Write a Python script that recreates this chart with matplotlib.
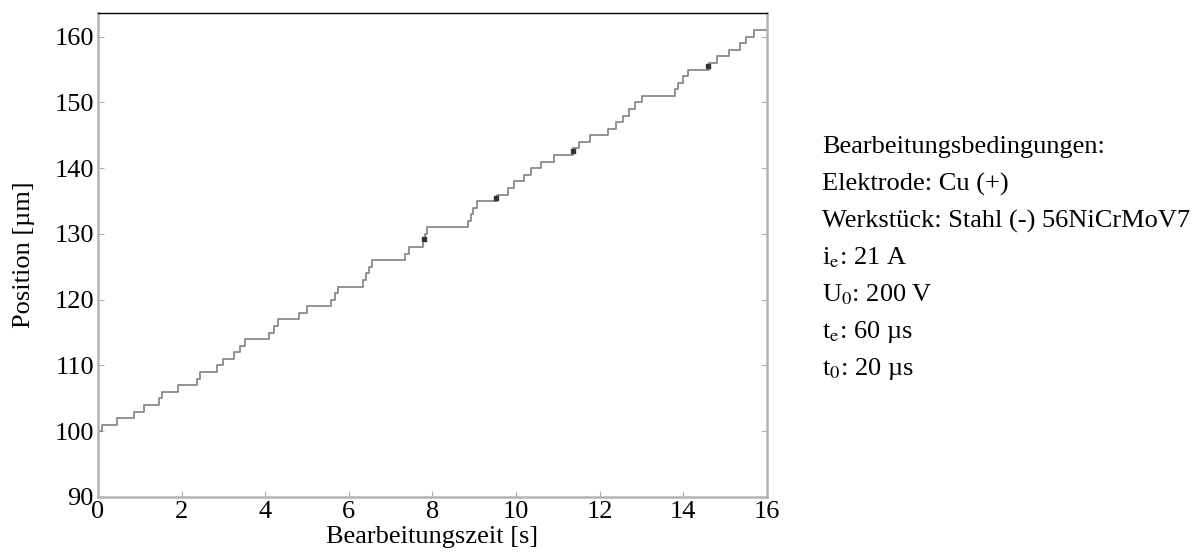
import matplotlib
matplotlib.use("Agg")
import matplotlib.pyplot as plt

plt.rcParams['font.family'] = ['Liberation Serif', 'DejaVu Serif']
plt.rcParams['mathtext.fontset'] = 'stix'

# Stufenverlauf: Startzeit der Stufe [s] und Position [µm]
zeit = [0.0, 0.1, 0.45, 0.85, 1.1, 1.45, 1.53, 1.92, 2.36, 2.44, 2.84, 3.0,
        3.25, 3.4, 3.52, 4.1, 4.2, 4.3, 4.8, 5.0, 5.58, 5.68, 5.75, 6.33,
        6.4, 6.48, 6.55, 7.35, 7.45, 7.78, 7.83, 7.88, 8.85, 8.92, 8.98,
        9.06, 9.55, 9.8, 9.95, 10.2, 10.35, 10.6, 10.9, 11.35, 11.5, 11.77,
        12.2, 12.4, 12.55, 12.7, 12.85, 13.0, 13.8, 13.88, 14.0, 14.1,
        14.62, 14.8, 15.1, 15.36, 15.5, 15.7, 16.0]
position = [100, 101, 102, 103, 104, 105, 106, 107, 108, 109, 110, 111,
            112, 113, 114, 115, 116, 117, 118, 119, 120, 121, 122, 123,
            124, 125, 126, 127, 128, 129, 130, 131, 132, 133, 134,
            135, 136, 137, 138, 139, 140, 141, 142, 143, 144, 145,
            146, 147, 148, 149, 150, 151, 152, 153, 154, 155,
            156, 157, 158, 159, 160, 161, 161]

# dunkle Stellen im Verlauf
punkt_zeit = [7.8, 9.52, 11.37, 14.6]
punkt_pos = [129.3, 135.4, 142.6, 155.6]

x_ticks = [0, 2, 4, 6, 8, 10, 12, 14, 16]
y_ticks = [90, 100, 110, 120, 130, 140, 150, 160]

bedingungen = [
    "Bearbeitungsbedingungen:",
    "Elektrode: Cu (+)",
    "Werkstück: Stahl (-) 56NiCrMoV7",
    "i$_\\mathrm{e}$: 21 A",
    "U$_\\mathrm{0}$: 200 V",
    "t$_\\mathrm{e}$: 60 µs",
    "t$_\\mathrm{0}$: 20 µs",
]

fig = plt.figure(figsize=(12.04, 5.54), dpi=100)
ax = fig.add_axes([0.0814, 0.1029, 0.5556, 0.8736])

ax.step(zeit, position, where='post', color='#8a8a8a', lw=1.3)
ax.scatter(punkt_zeit, punkt_pos, marker='s', s=10, color='#333333', zorder=3)

ax.set_xlim(0, 16)
ax.set_ylim(90, 163.6)
ax.set_xticks(x_ticks)
ax.set_yticks(y_ticks)
ax.tick_params(direction='in', length=4, width=0.8, color='#b0b0b0',
               labelsize=19, pad=3, right=True)

for s in ['left', 'bottom', 'right']:
    ax.spines[s].set_color('#b4b4b4')
    ax.spines[s].set_linewidth(1.8)
ax.spines['top'].set_color('black')
ax.spines['top'].set_linewidth(1.0)

ax.set_xlabel("Bearbeitungszeit [s]", fontsize=19, labelpad=2)
ax.set_ylabel("Position [µm]", fontsize=19, labelpad=14)

for i, zeile in enumerate(bedingungen):
    fig.text(822 / 1204, 1 - (147 + i * 37) / 554, zeile, fontsize=19,
             ha='left', va='center')

fig.savefig("out.png", dpi=100)
